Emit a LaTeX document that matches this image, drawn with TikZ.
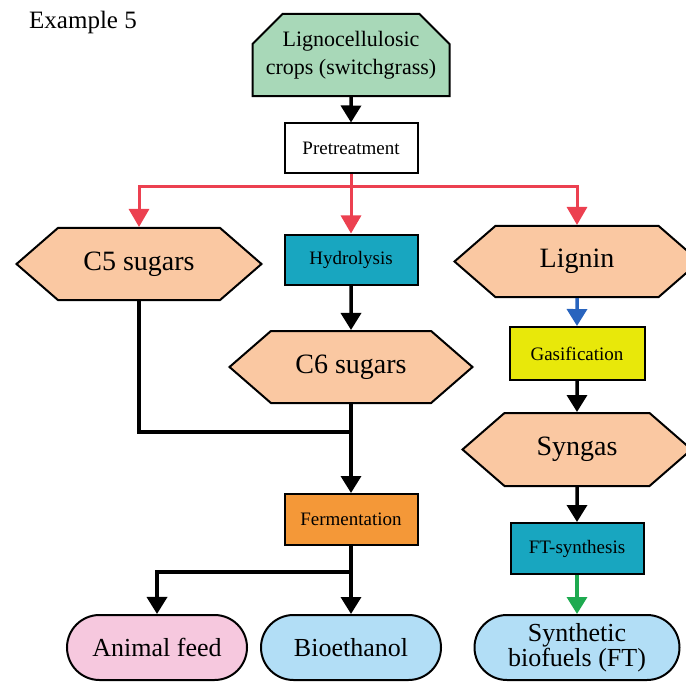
\documentclass[tikz,border=0pt]{standalone}
\usepackage{fontspec}
\setmainfont{Liberation Serif}
\usetikzlibrary{shapes.misc, shapes.symbols, arrows.meta, positioning, calc}
\definecolor{crop_green}{RGB}{168,216,184}
\definecolor{sugar_peach}{RGB}{250,200,162}
\definecolor{hydro_teal}{RGB}{24,166,192}
\definecolor{gas_yellow}{RGB}{232,232,10}
\definecolor{ferm_orange}{RGB}{244,152,56}
\definecolor{feed_pink}{RGB}{246,200,222}
\definecolor{fuel_blue}{RGB}{178,222,246}
\definecolor{split_red}{RGB}{236,64,80}
\definecolor{lignin_blue}{RGB}{40,100,190}
\definecolor{ft_green}{RGB}{30,170,80}
\tikzset{
  title_font/.style = {font=\fontsize{25}{25}\selectfont},
  stream_font/.style = {font=\fontsize{28}{28}\selectfont},
  product_font/.style = {font=\fontsize{26}{25}\selectfont},
  step_font/.style = {font=\fontsize{19}{19}\selectfont},
  crop_font/.style = {font=\fontsize{22}{28}\selectfont},
  outlined/.style = {draw, line width=2pt, inner sep=0pt}
}
\tikzset{
  feedstock/.style = {outlined, crop_font, align=center, fill=crop_green,
    chamfered rectangle, chamfered rectangle corners={north west, north east},
    chamfered rectangle xsep=13pt, chamfered rectangle ysep=17pt,
    minimum width=197pt, minimum height=74pt},
  process/.style = {outlined, step_font, rectangle, minimum width=133pt, minimum height=50pt},
  stream/.style = {outlined, stream_font, signal, signal to=west and east,
    signal pointer angle=82, fill=sugar_peach, minimum height=72pt},
  product/.style = {outlined, product_font, align=center, rounded rectangle,
    fill=fuel_blue, minimum width=180pt, minimum height=65pt},
  flow/.style = {line width=3.5pt, -{Triangle[width=20pt, length=17pt]}},
  pipe/.style = {line width=3.5pt},
  red_flow/.style = {split_red, line width=3pt, -{Triangle[width=20pt, length=18pt]}}
}

\begin{document}
\begin{tikzpicture}[x=1pt, y=-1pt]{
        \useasboundingbox (0,0) rectangle (686,682);

        % Title
        \node[title_font] (ex) at (83,22) {Example 5};

        % Feedstock and pretreatment
        \node[feedstock] (crops) at (351,55) {Lignocellulosic\\crops (switchgrass)};
        \node[process, fill=white] (pre) at (351,148.5) {Pretreatment};

        % Sugar route
        \node[stream, minimum width=245pt] (c5) at (139,264) {C5 sugars};
        \node[process, fill=hydro_teal] (hyd) at (351,259.5) {Hydrolysis};
        \node[stream, minimum width=243pt] (c6) at (351,367) {C6 sugars};
        \node[process, fill=ferm_orange, minimum height=51pt] (ferm) at (351,519.5) {Fermentation};
        \node[product, fill=feed_pink] (feed) at (157,647.5) {Animal feed};
        \node[product] (ethanol) at (351,647.5) {Bioethanol};

        % Lignin route
        \node[stream, minimum width=245pt, minimum height=71pt] (lignin) at (577,261.5) {Lignin};
        \node[process, fill=gas_yellow, minimum width=135pt, minimum height=53pt] (gas) at (577,353.5) {Gasification};
        \node[stream, minimum width=229pt, minimum height=73pt] (syngas) at (577,449.5) {Syngas};
        \node[process, fill=hydro_teal, minimum height=51pt] (ft) at (577,548.5) {FT-synthesis};
        \node[product, minimum width=205pt] (synth) at (577,647.5) {Synthetic\\biofuels (FT)};

        % Arrows and lines
        \coordinate (split) at (351,187);
        \coordinate (join) at (351,432);
        \coordinate (branch) at (351,572);

        \draw[flow] (crops) -- (pre);
        \draw[split_red, line width=3pt] (pre) -- (split);
        \draw[red_flow] (split) -| (c5);
        \draw[red_flow] (split) -- (hyd);
        \draw[red_flow] (split) -| (lignin);

        \draw[flow] (hyd) -- (c6);
        \draw[pipe] (c5) |- (join);
        \draw[flow] (c6) -- (ferm);
        \draw[flow] (ferm) -- (ethanol);
        \draw[flow] (branch) -| (feed);

        \draw[flow, lignin_blue] (lignin) -- (gas);
        \draw[flow] (gas) -- (syngas);
        \draw[flow] (syngas) -- (ft);
        \draw[flow, ft_green] (ft) -- (synth);
        }
\end{tikzpicture}
\end{document}
